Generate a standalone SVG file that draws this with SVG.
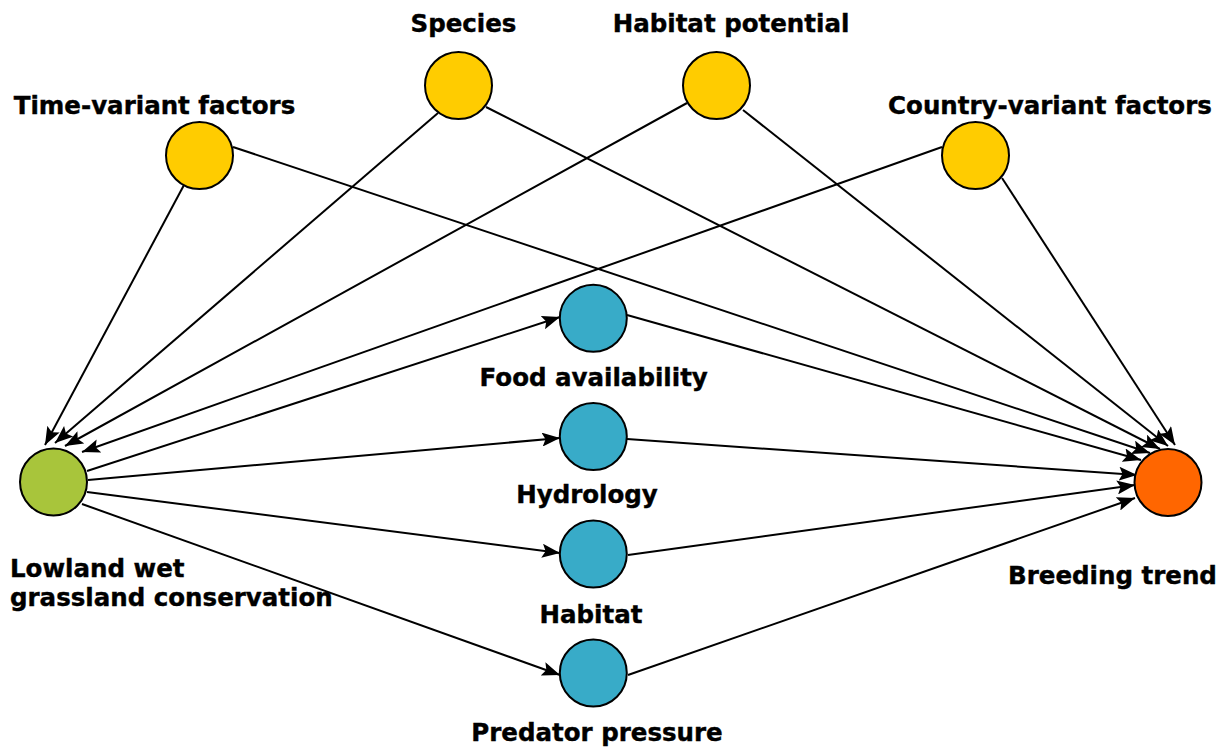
<svg xmlns="http://www.w3.org/2000/svg" width="1225" height="747" viewBox="0 0 1225 747">
<style>
.node circle{stroke:#000;stroke-width:2}
.yel{fill:#FFCC00}
.grn{fill:#A8C53B}
.blu{fill:#38ABC8}
.org{fill:#FF6600}
text{font-family:"DejaVu Sans","Liberation Sans",sans-serif;font-weight:bold;font-size:24.5px;fill:#000;stroke:#000;stroke-width:0.4}
.c{text-anchor:middle}
#connectors line{stroke:#000;stroke-width:2;fill:none;marker-end:url(#arr)}
</style>
<defs>
<marker id="arr" markerUnits="userSpaceOnUse" viewBox="0 0 18 14" refX="18" refY="7" markerWidth="18" markerHeight="14" orient="auto">
<path d="M0,0 L18,7 L0,14 L3.5,7 Z" fill="#000"/>
</marker>
</defs>
<rect width="1225" height="747" fill="#fff"/>
<g id="connectors">
<line x1="184" y1="185" x2="45" y2="445"/>
<line x1="438" y1="113" x2="55" y2="443"/>
<line x1="687" y1="103" x2="65" y2="446"/>
<line x1="942" y1="147" x2="82" y2="452"/>
<line x1="233" y1="147" x2="1150" y2="453"/>
<line x1="486" y1="107" x2="1160" y2="449"/>
<line x1="743" y1="110" x2="1168" y2="446"/>
<line x1="1002" y1="178" x2="1175" y2="445"/>
<line x1="87" y1="471" x2="560" y2="317"/>
<line x1="88" y1="480" x2="560" y2="438"/>
<line x1="87" y1="492" x2="560" y2="553"/>
<line x1="82" y1="504" x2="560" y2="675"/>
<line x1="627" y1="315" x2="1141" y2="460"/>
<line x1="627" y1="439" x2="1137" y2="475"/>
<line x1="628" y1="555" x2="1135" y2="485"/>
<line x1="628" y1="675" x2="1135" y2="498"/>
</g>
<g id="species" class="node"><circle class="yel" cx="458.5" cy="85.5" r="33.5"/><text class="c" x="463.5" y="32">Species</text></g>
<g id="habitat-potential" class="node"><circle class="yel" cx="716.5" cy="85.5" r="33.5"/><text class="c" x="731" y="32">Habitat potential</text></g>
<g id="time-variant" class="node"><circle class="yel" cx="199.5" cy="155.5" r="33.5"/><text class="c" x="154.5" y="114">Time-variant factors</text></g>
<g id="country-variant" class="node"><circle class="yel" cx="975.5" cy="155.5" r="33.5"/><text class="c" x="1050" y="113.5">Country-variant factors</text></g>
<g id="conservation" class="node"><circle class="grn" cx="53.5" cy="482" r="33.5"/><text x="10" y="577">Lowland wet</text><text x="10" y="606">grassland conservation</text></g>
<g id="breeding-trend" class="node"><circle class="org" cx="1168" cy="482.5" r="33.5"/><text class="c" x="1112.5" y="583.5">Breeding trend</text></g>
<g id="food" class="node"><circle class="blu" cx="593.3" cy="318.3" r="33.5"/><text class="c" x="593.7" y="386">Food availability</text></g>
<g id="hydrology" class="node"><circle class="blu" cx="593.3" cy="436.5" r="33.5"/><text class="c" x="587" y="502.5">Hydrology</text></g>
<g id="habitat" class="node"><circle class="blu" cx="593.3" cy="554" r="33.5"/><text class="c" x="591" y="623">Habitat</text></g>
<g id="predator" class="node"><circle class="blu" cx="593.3" cy="673" r="33.5"/><text class="c" x="597" y="741">Predator pressure</text></g>
</svg>
